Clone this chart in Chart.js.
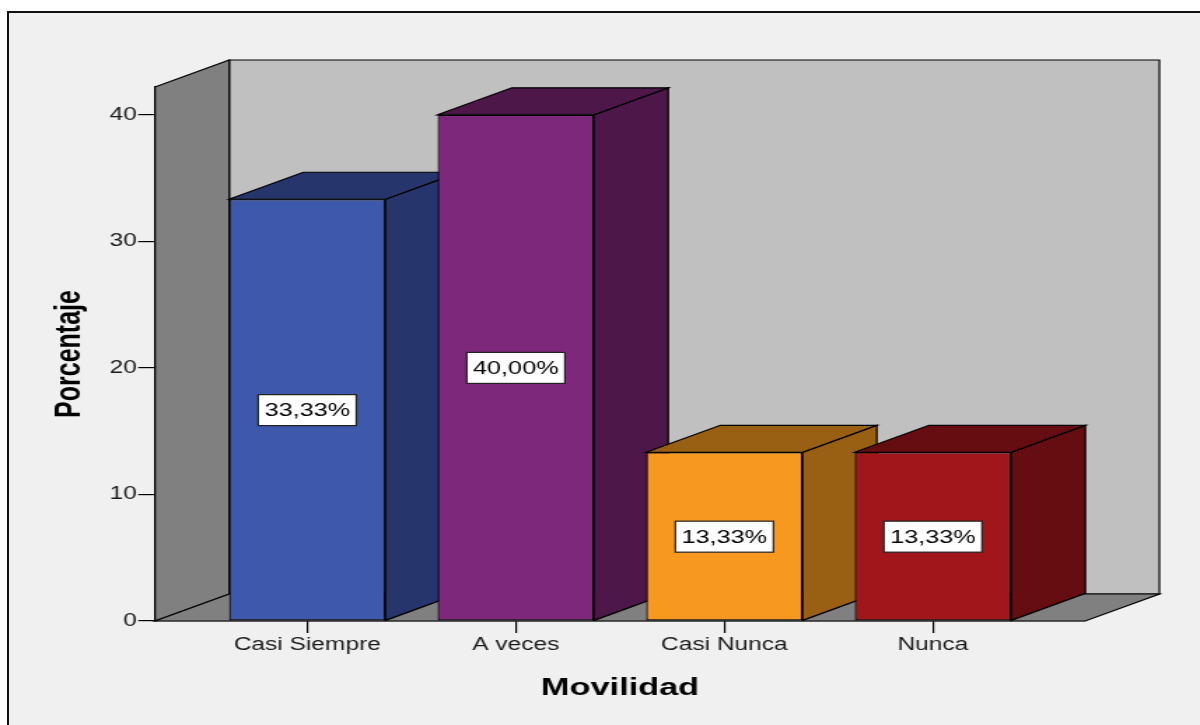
<!DOCTYPE html>
<html lang="es">
<head>
<meta charset="utf-8">
<title>Movilidad</title>
<script src="https://cdn.jsdelivr.net/npm/chart.js@4.4.1/dist/chart.umd.min.js"></script>
<style>
  html, body { margin: 0; padding: 0; background: #ffffff; overflow: hidden; }
  #frame {
    position: absolute; left: 7px; top: 11px;
    width: 1300px; height: 800px;
    border: 2px solid #111; background: #f0f0f0;
  }
  #chart { position: absolute; left: 0; top: 0; }
</style>
</head>
<body>
<div id="frame"></div>
<!-- drawn on a narrower canvas and widened by CSS, giving the broad lettering of the export -->
<canvas id="chart" width="857" height="725" style="width:1200px;height:725px"></canvas>
<script>
// ---- data ----
const categories = ['Casi Siempre', 'A veces', 'Casi Nunca', 'Nunca'];
const percentages = [33.33, 40.00, 13.33, 13.33];
const yTickValues = [0, 10, 20, 30, 40];
const xTitle = 'Movilidad';
const yTitle = 'Porcentaje';

// ---- style ----
const faceColors = ['#3e58ab', '#7d287b', '#f8991f', '#a1161b'];
const shadeColors = ['#26356b', '#4d1749', '#995f13', '#650d10'];
const WALL_BACK = '#c0c0c0';
const WALL_SIDE = '#808080';
const EDGE = '#000000';
const DEPTH_X = 53;   // oblique depth offset, canvas px
const DEPTH_Y = -27;
const FONT = '"Liberation Sans", Arial, sans-serif';

function poly(ctx, pts, fill) {
  ctx.beginPath();
  ctx.moveTo(pts[0][0], pts[0][1]);
  for (let i = 1; i < pts.length; i++) ctx.lineTo(pts[i][0], pts[i][1]);
  ctx.closePath();
  ctx.fillStyle = fill;
  ctx.fill();
  ctx.stroke();
}

function formatPct(v) {
  return v.toFixed(2).replace('.', ',') + '%';
}

// walls, floor and the receding faces of each bar
const box3d = {
  id: 'box3d',
  beforeDatasetsDraw(chart) {
    const { ctx, chartArea } = chart;
    const { left: L, right: R, top: T, bottom: B } = chartArea;
    const dx = DEPTH_X, dy = DEPTH_Y;
    ctx.save();
    ctx.lineWidth = 1.2;
    ctx.strokeStyle = EDGE;
    ctx.lineJoin = 'miter';
    poly(ctx, [[L + dx, T + dy], [R + dx, T + dy], [R + dx, B + dy], [L + dx, B + dy]], WALL_BACK);
    poly(ctx, [[L, T], [L + dx, T + dy], [L + dx, B + dy], [L, B]], WALL_SIDE);
    poly(ctx, [[L, B], [L + dx, B + dy], [R + dx, B + dy], [R, B]], WALL_SIDE);

    const meta = chart.getDatasetMeta(0);
    meta.data.forEach((bar, i) => {
      const { x, y, base, width } = bar.getProps(['x', 'y', 'base', 'width'], true);
      const x0 = x - width / 2, x1 = x + width / 2;
      const shade = shadeColors[i % shadeColors.length];
      poly(ctx, [[x1, y], [x1 + dx, y + dy], [x1 + dx, base + dy], [x1, base]], shade);
      poly(ctx, [[x0, y], [x0 + dx, y + dy], [x1 + dx, y + dy], [x1, y]], shade);
    });
    ctx.restore();
  },
  afterDatasetsDraw(chart) {
    const { ctx } = chart;
    const yScale = chart.scales.y;
    const meta = chart.getDatasetMeta(0);
    ctx.save();
    ctx.font = '18px ' + FONT;
    ctx.textAlign = 'center';
    ctx.textBaseline = 'middle';
    meta.data.forEach((bar, i) => {
      const value = percentages[i];
      const text = formatPct(value);
      const cx = bar.x;
      const cy = yScale.getPixelForValue(value / 2);
      const w = ctx.measureText(text).width + 9;
      const h = 31;
      ctx.fillStyle = '#ffffff';
      ctx.fillRect(cx - w / 2, cy - h / 2, w, h);
      ctx.lineWidth = 1.2;
      ctx.strokeStyle = '#222222';
      ctx.strokeRect(cx - w / 2, cy - h / 2, w, h);
      ctx.fillStyle = '#000000';
      ctx.fillText(text, cx, cy + 1);
    });
    ctx.restore();
  }
};

const pad = 0.73; // room between the outer bars and the walls, in category units

new Chart(document.getElementById('chart'), {
  type: 'bar',
  data: {
    datasets: [{
      data: categories.map((c, i) => ({ x: i, y: percentages[i] })),
      backgroundColor: faceColors,
      borderColor: EDGE,
      borderWidth: 1.2,
      borderSkipped: false,
      categoryPercentage: 1,
      barPercentage: 0.75
    }]
  },
  options: {
    responsive: false,
    devicePixelRatio: 1,
    animation: false,
    layout: { padding: { left: 0, top: 87, right: 82, bottom: 0 } },
    plugins: { legend: { display: false }, tooltip: { enabled: false } },
    scales: {
      x: {
        type: 'linear',
        offset: false,
        min: -pad,
        max: categories.length - 1 + pad,
        afterBuildTicks: (s) => { s.ticks = categories.map((c, i) => ({ value: i })); },
        afterFit: (s) => { s.height = 104; },
        ticks: {
          callback: (v) => categories[Math.round(v)],
          autoSkip: false,
          maxRotation: 0,
          padding: 2,
          color: '#1a1a1a',
          font: { family: FONT, size: 17.5 }
        },
        grid: { offset: false, drawOnChartArea: false, drawTicks: true, tickLength: 12, color: EDGE, lineWidth: 1.2 },
        border: { display: true, color: EDGE, width: 1.2 },
        title: {
          display: true,
          text: xTitle,
          color: '#000000',
          font: { family: FONT, size: 24.5, weight: 'bold' },
          padding: { top: 0, bottom: 22 }
        }
      },
      y: {
        min: 0,
        max: 42.2,
        afterBuildTicks: (s) => { s.ticks = yTickValues.map((v) => ({ value: v })); },
        afterFit: (s) => { s.width = 110.7; },
        ticks: {
          padding: 1,
          color: '#1a1a1a',
          font: { family: FONT, size: 17.5 }
        },
        grid: { drawOnChartArea: false, drawTicks: true, tickLength: 12, color: EDGE, lineWidth: 1.2 },
        border: { display: true, color: EDGE, width: 1.2 },
        title: {
          display: true,
          text: yTitle,
          color: '#000000',
          font: { family: FONT, size: 25, weight: 'bold' },
          padding: { top: 35, bottom: 0 }
        }
      }
    }
  },
  plugins: [box3d]
});
</script>
</body>
</html>
